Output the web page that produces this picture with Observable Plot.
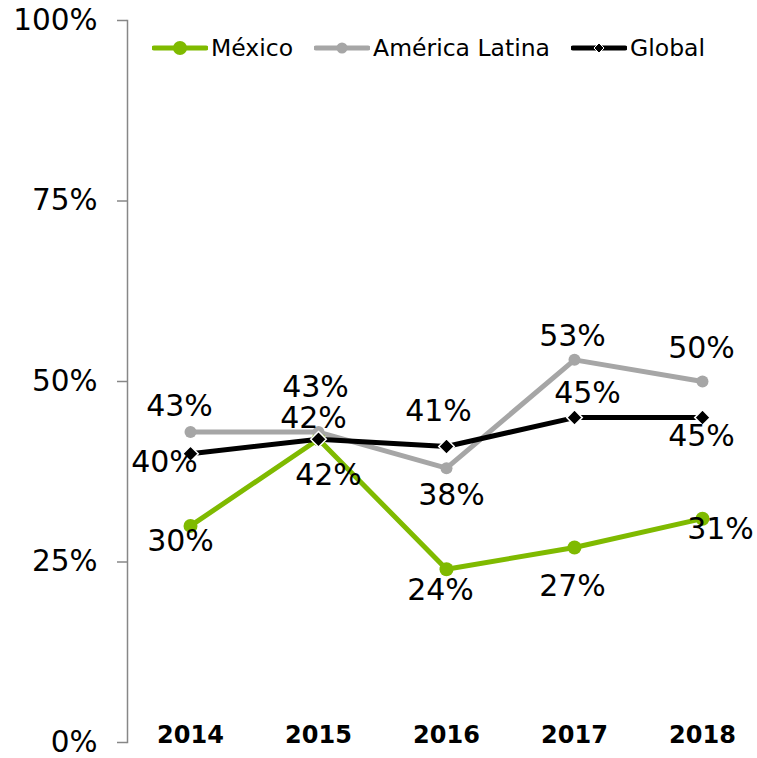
<!DOCTYPE html>
<html>
<head>
<meta charset="utf-8">
<script src="https://cdn.jsdelivr.net/npm/d3@7"></script>
<script src="https://cdn.jsdelivr.net/npm/@observablehq/plot@0.6"></script>
<style>
  html, body { margin: 0; padding: 0; background: #fff; }
  #wrap { position: relative; width: 757px; height: 758px; }
  #legend { position: absolute; top: 34px; left: 152px; display: flex; align-items: center;
    font-family: "DejaVu Sans", Verdana, sans-serif; font-size: 23.5px; color: #000; }
  .item { display: flex; align-items: center; margin-right: 21px; }
  .item svg { margin-right: 3px; }
</style>
</head>
<body>
<div id="wrap"><div id="legend"></div></div>
<script>
const years = ["2014", "2015", "2016", "2017", "2018"];
const seriesNames = ["México", "América Latina", "Global"];
const mexico = [0.30, 0.42, 0.24, 0.27, 0.31];
const latam = [0.43, 0.43, 0.38, 0.53, 0.50];
const global = [0.40, 0.42, 0.41, 0.45, 0.45];
const yTicks = [0, 0.25, 0.5, 0.75, 1];

const colors = ["#7fba00", "#a6a6a6", "#000000"];
const seriesValues = [mexico, latam, global];

// label placement [dx, dy] per series/point
const labelOffsets = [
  [[-10, 15], [10, 36], [-6, 21], [-2, 39], [18, 11]],
  [[-11, -26], [-3, -45], [5, 27], [-2, -23], [-1, -33]],
  [[-26, 9], [-5, -21], [-8, -35], [13, -24], [-1, 19]]
];

const rows = [];
seriesNames.forEach((s, i) => years.forEach((y, j) => rows.push({series: s, year: y, value: seriesValues[i][j], si: i, pj: j})));

const fontFamily = '"DejaVu Sans", Verdana, sans-serif';

const labelMarks = rows.map(r => Plot.text([r], {
  x: "year", y: "value", text: d => Math.round(d.value * 100) + "%",
  dx: labelOffsets[r.si][r.pj][0], dy: labelOffsets[r.si][r.pj][1],
  fontSize: 30, fill: "#000", fontFamily
}));

const chart = Plot.plot({
  width: 757,
  height: 758,
  marginTop: 20,
  marginBottom: 16,
  marginLeft: 127,
  marginRight: 0,
  style: {fontFamily, background: "transparent"},
  x: {type: "point", domain: years, range: [190, 702], padding: 0, axis: null},
  y: {domain: [0, 1], axis: null},
  color: {domain: seriesNames, range: colors},
  marks: [
    Plot.frame({anchor: "left", stroke: "#878787", strokeWidth: 1.5}),
    Plot.axisY({ticks: yTicks, tickFormat: d => Math.round(d * 100) + "%", tickSize: 10, tickPadding: 20,
      fontSize: 29.5, stroke: "#878787", strokeWidth: 1.5, fill: "#000", label: null}),
    Plot.text(years, {x: d => d, frameAnchor: "bottom", dy: -7, lineAnchor: "middle",
      fontSize: 24, fontWeight: "bold", fill: "#000", fontFamily}),
    Plot.line(rows, {x: "year", y: "value", z: "series", stroke: "series", strokeWidth: 5, strokeLinejoin: "round"}),
    Plot.dot(rows.filter(d => d.si === 0), {x: "year", y: "value", r: 7, fill: colors[0]}),
    Plot.dot(rows.filter(d => d.si === 1), {x: "year", y: "value", r: 6, fill: colors[1]}),
    Plot.dot(rows.filter(d => d.si === 2), {x: "year", y: "value", symbol: "diamond2", r: 7, fill: "#000", stroke: "#fff", strokeWidth: 1.5}),
    ...labelMarks
  ]
});
document.getElementById("wrap").prepend(chart);

// legend
const legend = document.getElementById("legend");
seriesNames.forEach((s, i) => {
  const item = document.createElement("div");
  item.className = "item";
  let marker;
  if (i === 2) marker = `<path d="M28,3 L33,8 L28,13 L23,8 Z" fill="#000" stroke="#fff" stroke-width="1"/>`;
  else marker = `<circle cx="28" cy="8" r="${i === 0 ? 7 : 5.5}" fill="${colors[i]}"/>`;
  item.innerHTML = `<svg width="56" height="16"><line x1="2" x2="54" y1="8" y2="8" stroke="${colors[i]}" stroke-width="5" stroke-linecap="round"/>${marker}</svg><span>${s}</span>`;
  legend.appendChild(item);
});
</script>
</body>
</html>
